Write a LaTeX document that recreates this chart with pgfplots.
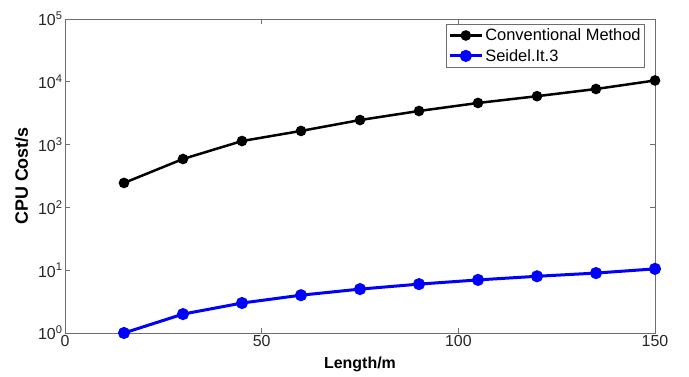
\documentclass[border=0pt]{standalone}
\usepackage{pgfplots}
\pgfplotsset{compat=1.18}
\usepackage{fontspec}
\setmainfont{Liberation Sans}
\usetikzlibrary{calc}
\definecolor{axgray}{RGB}{110,110,110}
\definecolor{myblue}{RGB}{0,0,255}
\begin{document}
\begin{tikzpicture}
\begin{axis}[
  scale only axis,
  width=590bp, height=314bp,
  xmin=0, xmax=150,
  ymode=log, log basis y=10,
  ymin=1, ymax=100000,
  xtick={0,50,100,150},
  xticklabels={0,50,100,150},
  ytick={1,10,100,1000,10000,100000},
  yticklabels={10\textsuperscript{0},10\textsuperscript{1},10\textsuperscript{2},10\textsuperscript{3},10\textsuperscript{4},10\textsuperscript{5}},
  /pgf/number format/assume math mode=true,
  tick label style={font=\fontsize{16}{18}\selectfont, text=black!85},
  xticklabel style={yshift=1bp},
  yticklabel style={xshift=1bp},
  xlabel={\textbf{Length/m}},
  ylabel={\textbf{CPU Cost/s}},
  xlabel style={font=\fontsize{16}{18}\selectfont, yshift=-3bp},
  ylabel style={font=\fontsize{18}{20}\selectfont, yshift=3bp},
  axis line style={axgray, line width=0.8bp},
  tick style={axgray, line width=0.6bp},
  major tick length=5bp,
  minor tick length=3bp,
  tick align=inside,
  xtick pos=both, ytick pos=both,
  legend style={at={(rel axis cs:0.983,0.984)}, anchor=north east,
    draw=axgray, line width=0.6bp, font=\fontsize{16.5}{18}\selectfont,
    inner xsep=2bp, inner ysep=2.5bp, row sep=3bp, legend cell align=left},
  legend image code/.code={\draw[#1, mark repeat=2, mark phase=2] plot coordinates {(0bp,0bp) (16bp,0bp) (32bp,0bp)};},
  clip=false,
]
\addplot[black, line width=2.5bp, mark=*, mark size=4bp] coordinates {
(15,245) (30,590) (45,1140) (60,1650) (75,2460) (90,3430) (105,4600) (120,5900) (135,7680) (150,10500)};
\addlegendentry{Conventional Method}
\addplot[myblue, line width=3bp, mark=*, mark size=4.5bp] coordinates {
(15,1) (30,2) (45,3) (60,4) (75,5) (90,6) (105,7) (120,8) (135,9) (150,10.5)};
\addlegendentry{Seidel.It.3}
\end{axis}
\path[use as bounding box] ($(current axis.south west)+(-65bp,-44bp)$) rectangle ($(current axis.north east)+(34bp,19bp)$);
\end{tikzpicture}
\end{document}
